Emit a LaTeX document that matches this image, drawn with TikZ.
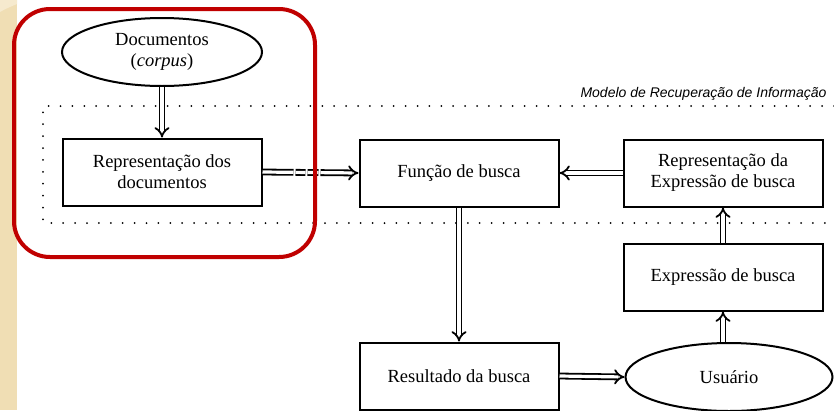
\documentclass[tikz,border=0pt]{standalone}
\usepackage{fontspec}
\setmainfont{Liberation Serif}
\newfontfamily\labelfont{Liberation Sans}
\usetikzlibrary{shapes.geometric,arrows.meta}
\definecolor{beige}{RGB}{240,222,180}
\definecolor{beigelight}{RGB}{246,234,206}
\definecolor{darkred}{RGB}{192,0,0}
\tikzset{
  boxnode/.style={draw,line width=2pt,minimum width=199pt,minimum height=67pt,align=center,font=\fontsize{18.5}{21}\selectfont,inner sep=0pt},
  ellnode/.style={ellipse,draw,line width=2pt,align=center,font=\fontsize{18.5}{21}\selectfont,inner sep=0pt},
  darr/.style={double,double distance=3.2pt,line width=1.8pt,-{Implies[scale=1.15]}},
  dotline/.style={line width=2pt,line cap=round,dash pattern=on 0pt off 11.9pt},
}
\begin{document}
\begin{tikzpicture}[x=1pt,y=-1pt]
\useasboundingbox (0,0) rectangle (834,410);
\fill[white] (0,0) rectangle (834,410);
\fill[beige] (0,0) rectangle (17,410);
\fill[beigelight] (0,0) -- (17,0) -- (17,4) .. controls (10,7) and (5,9) .. (0,12) -- cycle;
% dotted frame
\draw[dotline] (834,106) -- (43,106) -- (43,223) -- (834,223);
\node[font=\labelfont\itshape\fontsize{14}{16}\selectfont,anchor=base east] (lbl) at (830,97) {Modelo de Recuperação de Informação};
% nodes
\node[ellnode,minimum width=200pt,minimum height=68pt] (doc) at (162,52) {Documentos\\(\textit{corpus})};
\node[boxnode] (rep) at (162,172) {Representação dos\\documentos};
\node[boxnode] (func) at (459,173) {Função de busca};
\node[boxnode] (repexp) at (723,173) {Representação da\\Expressão de busca};
\node[boxnode] (exp) at (723,277) {Expressão de busca};
\node[boxnode] (res) at (459,376) {Resultado da busca};
\node[ellnode,minimum width=207pt,minimum height=68pt] (usr) at (729,377) {Usuário};
% arrows
\draw[darr] (doc.south) -- (rep.north);
\draw[darr,dash pattern=on 31pt off 2pt on 10pt off 2pt on 11pt off 2pt on 80pt] (rep.east) -- (func.west);
\draw[darr] (repexp.west) -- (func.east);
\draw[darr] (func.south) -- (res.north);
\draw[darr] (res.east) -- (usr.west);
\draw[darr] (usr.north -| exp.south) -- (exp.south);
\draw[darr] (exp.north) -- (repexp.south);
% red frame
\draw[darkred,line width=4pt,rounded corners=36pt] (14,9) rectangle (315,257);
\end{tikzpicture}
\end{document}
